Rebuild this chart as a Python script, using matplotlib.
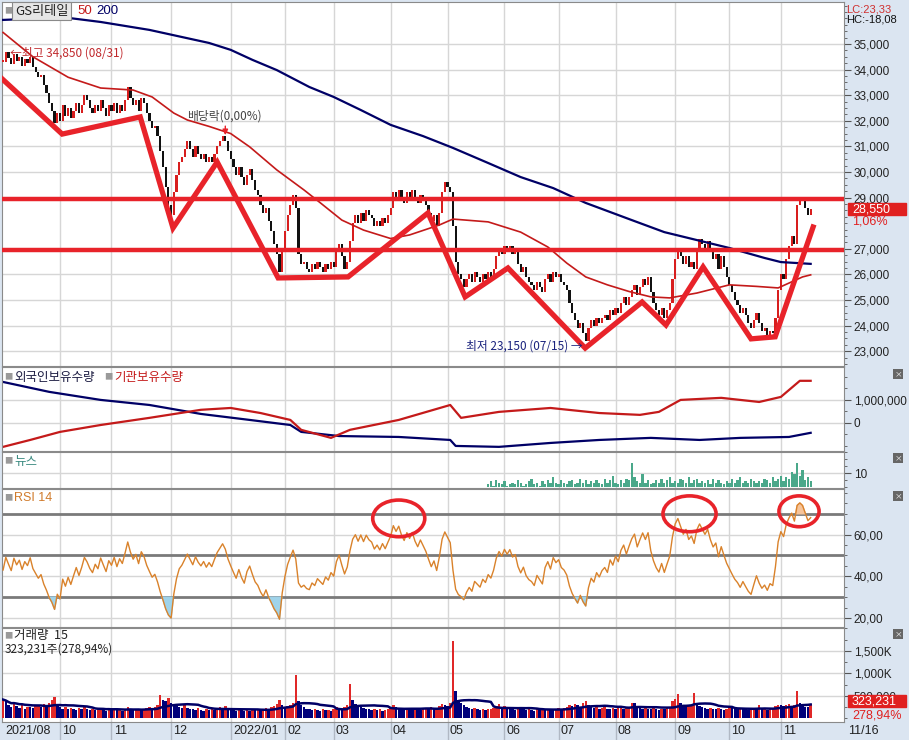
import numpy as np
import pandas as pd
import matplotlib
matplotlib.use('Agg')
import matplotlib.pyplot as plt
import matplotlib.transforms as mtrans
from matplotlib.patches import Ellipse, Rectangle
from matplotlib.ticker import MultipleLocator

plt.rcParams['font.family'] = ['Noto Sans CJK KR', 'DejaVu Sans']
NUM = ['Liberation Sans', 'DejaVu Sans']

# daily closes, trading day index 0 = 2021/08/30 ... 298 = 2022/11/16
closes = [
    34300, 34700, 34450, 34200, 34600, 34350, 34500, 34150, 34400, 34250,
    34500, 34100, 33900, 33700, 33800, 33400, 33100, 32700, 32400, 31900,
    32300, 32000, 32600, 32200, 32500, 32100, 32400, 32700, 32300, 32600,
    33000, 32800, 32500, 32300, 32600, 32400, 32800, 32500, 32200, 32600,
    32400, 32700, 32300, 32600, 32400, 32800, 33300, 32900, 32600, 32800,
    32400, 32900, 32700, 32300, 32000, 31700, 31800, 31400, 30800, 30200,
    29400, 28700, 28300, 29200, 29900, 30400, 30600, 30900, 31200, 30900,
    30600, 31000, 30700, 30500, 30700, 30400, 30600, 30400, 30700, 31000,
    31200, 31400, 31200, 30800, 30500, 30200, 29900, 30200, 29800, 29500,
    29900, 30100, 29700, 29300, 29100, 28700, 28400, 28600, 28100, 27700,
    27200, 26800, 26100, 27000, 27700, 28300, 28700, 29100, 28600, 26800,
    26400, 26500, 26200, 26100, 26400, 26200, 26500, 26300, 26100, 26400,
    26200, 26500, 26300, 26900, 27200, 26700, 26200, 26500, 27300, 28000,
    28300, 28000, 28400, 28100, 28500, 28300, 28200, 27900, 28100, 27900,
    28200, 28000, 28300, 28600, 29200, 29000, 29300, 29000, 28800, 29200,
    29000, 29300, 29000, 28800, 29100, 28900, 28700, 28400, 28100, 28300,
    27900, 28400, 29200, 29600, 29400, 29200, 27900, 26500, 26000, 25800,
    25500, 25800, 26000, 25700, 26100, 25900, 25700, 26000, 25800, 26100,
    25900, 26200, 26700, 27000, 26800, 27100, 26900, 27100, 26800, 26900,
    26400, 26100, 26300, 25900, 25700, 25600, 25400, 25700, 25500, 25300,
    25800, 26000, 25700, 26100, 25900, 26000, 25700, 25600, 25400, 24900,
    24500, 24200, 23900, 24100, 23700, 23400, 23900, 24200, 24000, 24300,
    24100, 24300, 24400, 24200, 24600, 24400, 24700, 24500, 24900, 25100,
    24800, 25100, 25400, 25600, 25200, 25500, 25800, 25600, 25900, 25300,
    24900, 24600, 24400, 24700, 24300, 24600, 24900, 25800, 26600, 27000,
    26700, 26400, 26700, 26300, 26500, 26200, 27000, 27400, 27200, 27000,
    27300, 26900, 26600, 26800, 26200, 26700, 26300, 25900, 25600, 25300,
    25000, 24800, 24500, 24700, 24400, 24100, 23900, 24200, 24500, 24100,
    23800, 23900, 23600, 23800, 23700, 24300, 25400, 26000, 25800, 26600,
    27100, 27500, 27200, 28700, 29000, 28900, 28600, 28300, 28550,
]

# volume in thousand shares
volumes = [
    420, 380, 300, 260, 350, 280, 240, 300, 220, 260,
    250, 230, 280, 300, 260, 320, 280, 350, 400, 480,
    300, 250, 220, 260, 200, 240, 210, 180, 230, 200,
    260, 220, 190, 210, 180, 200, 230, 190, 170, 210,
    190, 220, 180, 200, 170, 210, 260, 200, 180, 190,
    200, 180, 210, 230, 250, 220, 260, 300, 520, 420,
    380, 460, 350, 300, 280, 260, 240, 300, 230, 210,
    200, 180, 230, 190, 170, 200, 180, 210, 190, 220,
    250, 230, 280, 200, 190, 180, 170, 210, 190, 170,
    180, 160, 200, 190, 210, 180, 200, 230, 220, 250,
    280, 320, 420, 300, 260, 280, 300, 350, 970, 380,
    300, 250, 220, 200, 180, 210, 190, 170, 200, 180,
    190, 170, 200, 260, 230, 220, 250, 300, 770, 420,
    330, 280, 250, 230, 210, 200, 190, 220, 180, 200,
    170, 190, 210, 230, 300, 260, 240, 220, 200, 230,
    210, 190, 220, 200, 180, 210, 230, 200, 250, 220,
    240, 280, 330, 300, 280, 350, 1720, 600, 420, 350,
    300, 260, 230, 210, 240, 200, 190, 220, 180, 200,
    210, 230, 280, 320, 260, 280, 240, 210, 200, 190,
    230, 210, 200, 180, 220, 190, 170, 200, 180, 210,
    190, 220, 200, 180, 210, 230, 200, 240, 260, 300,
    280, 320, 300, 260, 340, 380, 300, 260, 230, 250,
    220, 240, 300, 220, 200, 230, 210, 250, 270, 220,
    240, 260, 350, 340, 280, 230, 210, 250, 220, 200,
    230, 210, 190, 220, 200, 240, 260, 380, 430, 540,
    350, 300, 260, 280, 300, 570, 330, 280, 250, 230,
    210, 240, 220, 200, 230, 210, 190, 220, 250, 230,
    210, 200, 240, 220, 200, 190, 210, 230, 220, 290,
    200, 220, 190, 210, 240, 270, 310, 300, 280, 290,
    330, 280, 300, 610, 340, 290, 260, 250, 323,
]

# news count per day, from index 179
news_start = 179
news = [
    2, 4, 1, 5, 3, 2, 4, 1, 2, 3,
    2, 5, 3, 1, 2, 4, 6, 2, 3, 1,
    4, 2, 5, 3, 7, 3, 2, 5, 3, 2,
    4, 5, 2, 3, 6, 3, 5, 2, 4, 3,
    5, 3, 2, 6, 3, 5, 8, 3, 2, 5,
    3, 6, 5, 17, 7, 4, 3, 9, 3, 5,
    2, 3, 5, 3, 6, 3, 5, 7, 3, 4,
    3, 6, 5, 3, 7, 3, 5, 6, 3, 4,
    3, 5, 2, 6, 3, 5, 3, 2, 4, 3,
    6, 3, 5, 7, 3, 4, 3, 6, 4, 3,
    4, 3, 6, 5, 3, 7, 4, 6, 8, 4,
    7, 6, 11, 9, 17, 8, 12, 5, 7, 4,
]

month_idx = [0, 21, 40, 62, 84, 104, 122, 143, 164, 185, 205, 226, 248, 268, 287]
month_labels = ['2021/08', '10', '11', '12', '2022/01', '02', '03', '04', '05',
                '06', '07', '08', '09', '10', '11']

# moving averages (index, price)
ma50_idx = [0, 11, 24, 36, 48, 55, 63, 68, 76, 84, 91, 101, 111, 117, 125, 133, 143,
            150, 161, 166, 179, 191, 201, 208, 215, 223, 231, 239, 246, 256, 268,
            278, 286, 290, 295, 298]
ma50_val = [35450, 34500, 33700, 33280, 33200, 32930, 32300, 32030, 31780, 31500,
            30980, 30080, 29300, 28800, 28120, 27730, 27400, 27540, 27930, 28160,
            28050, 27650, 27070, 26440, 25900, 25590, 25330, 25120, 25080, 25270,
            25590, 25530, 25470, 25660, 25900, 25980]
ma200_idx = [0, 14, 24, 36, 54, 76, 84, 92, 101, 113, 122, 132, 143, 155, 166, 179,
             191, 203, 215, 232, 244, 256, 268, 281, 287, 298]
ma200_val = [35940, 36000, 36020, 35860, 35550, 35040, 34770, 34380, 33980, 33320,
             32930, 32420, 31840, 31400, 30940, 30350, 29800, 29370, 28790, 28120,
             27650, 27340, 27030, 26640, 26480, 26410]

# hand drawn trend zigzag and support/resistance lines
zig_idx = [-1.1, 21.8, 50.6, 62.7, 79, 101.5, 127.3, 156.8, 170.5, 186.3, 214.8,
           235.8, 244.6, 258.3, 276, 284.9, 298.9]
zig_val = [33710, 31480, 32150, 27810, 30390, 25860, 25900, 28400, 25120, 26250,
           23120, 24920, 24020, 26290, 23480, 23560, 27850]
levels = [28950, 26950]

# holdings (index, million shares, relative)
foreign_idx = [0, 17, 36, 54, 73, 91, 106, 110, 124, 146, 165, 167, 183, 202, 220,
               239, 257, 272, 290, 298]
foreign_val = [1.78, 1.35, 1.0, 0.78, 0.39, 0.13, -0.09, -0.39, -0.57, -0.61, -0.74,
               -1.0, -1.04, -0.87, -0.74, -0.65, -0.74, -0.65, -0.61, -0.43]
inst_idx = [0, 10, 21, 36, 54, 73, 84, 95, 106, 110, 121, 128, 146, 165, 169, 183,
            202, 220, 235, 242, 250, 265, 279, 287, 294, 298]
inst_val = [-1.04, -0.74, -0.39, -0.09, 0.22, 0.57, 0.65, 0.43, 0.13, -0.30, -0.65,
            -0.30, 0.13, 0.78, 0.22, 0.48, 0.65, 0.43, 0.35, 0.48, 1.0, 1.09, 0.91,
            1.13, 1.83, 1.83]

W, H = 909, 740
RED = '#e8232a'
NAVY = '#000066'
GRID = '#d6d6d6'
BG = '#dbe5f1'
TICK_FS = 8.5

fig = plt.figure(figsize=(W / 100, H / 100), dpi=100, facecolor=BG)


def panel(y0, y1):
    ax = fig.add_axes([2 / W, 1 - y1 / H, 842 / W, (y1 - y0) / H])
    ax.set_facecolor('white')
    ax.set_xlim(-0.4, 310.3)
    for s in ax.spines.values():
        s.set_color('#8a8a8a')
    ax.yaxis.tick_right()
    ax.tick_params(axis='y', direction='out', length=5, width=0.8, color='#555555',
                   labelsize=TICK_FS, pad=2, labelcolor='#222222')
    ax.tick_params(axis='y', which='minor', direction='out', length=2, color='#555555')
    ax.tick_params(axis='x', length=0, labelbottom=False)
    ax.set_xticks(month_idx[1:])
    ax.grid(True, axis='both', color=GRID, lw=1)
    ax.set_axisbelow(True)
    return ax


def set_labels(ax, vals, labels):
    ax.set_yticks(vals)
    ax.set_yticklabels(labels, family=NUM, fontsize=TICK_FS)


x = np.arange(len(closes))
c = np.array(closes, dtype=float)
o = np.concatenate([[c[0]], c[:-1]])
up = c >= o

# ---- price panel
ax = panel(2, 366)
ax.set_ylim(22420, 36640)
ax.yaxis.set_minor_locator(MultipleLocator(250))
pt = [v for v in range(23000, 36000, 1000) if v != 28000]
set_labels(ax, pt, [f'{v:,}' for v in pt])
lo = np.minimum(o, c)
hgt = np.maximum(np.abs(c - o), 60)
ax.bar(x, hgt, bottom=lo, width=0.8, color=np.where(up, '#d81e1e', '#111111'),
       zorder=3)
ax.plot(ma200_idx, ma200_val, color=NAVY, lw=1.6, zorder=4)
ax.plot(ma50_idx, ma50_val, color='#c41a1a', lw=1.2, zorder=4)
for lv in levels:
    ax.axhline(lv, color=RED, lw=3.2, zorder=5)
ax.plot(zig_idx, zig_val, color=RED, lw=3.8, zorder=6, solid_joinstyle='miter')
ax.text(2.5, 34660, '←최고 34,850 (08/31)', color='#c0282c', fontsize=8.5,
        va='center', ha='left', zorder=7)
ax.text(68, 32190, '배당락(0,00%)', color='#444444', fontsize=8.5, va='center',
        ha='left', zorder=7)
ax.annotate('', xy=(82, 31330), xytext=(82, 31900),
            arrowprops=dict(arrowstyle='-|>', color=RED, lw=1, mutation_scale=8),
            zorder=7)
ax.text(214, 23200, '최저 23,150 (07/15) →', color='#1a237e', fontsize=8.5,
        va='center', ha='right', zorder=7)

# ---- holdings panel
ah = panel(367, 451)
ah.set_ylim(-1.22, 2.43)
set_labels(ah, [0, 1.0], ['0', '1,000,000'])
ah.yaxis.set_minor_locator(MultipleLocator(0.5))
ah.plot(foreign_idx, foreign_val, color=NAVY, lw=1.6)
ah.plot(inst_idx, inst_val, color='#c41a1a', lw=1.6)

# ---- news panel
an = panel(452, 488)
an.set_ylim(-0.7, 25)
set_labels(an, [10], ['10'])
an.yaxis.set_minor_locator(MultipleLocator(5))
an.bar(np.arange(news_start, news_start + len(news)), news, width=0.85,
       color='#4aa88a', zorder=3)

# ---- RSI panel (Wilder, 14)
ar = panel(489, 627)
ar.set_ylim(15.7, 81.9)
set_labels(ar, [20, 40, 60], ['20,00', '40,00', '60,00'])
ar.yaxis.set_minor_locator(MultipleLocator(5))
d = np.diff(c, prepend=c[0])
gain = np.maximum(d, 0)
loss = np.maximum(-d, 0)
ag = np.empty_like(c)
al = np.empty_like(c)
ag[0] = gain[1:15].mean()
al[0] = loss[1:15].mean()
for i in range(1, len(c)):
    ag[i] = (ag[i - 1] * 13 + gain[i]) / 14
    al[i] = (al[i - 1] * 13 + loss[i]) / 14
rsi = 100 - 100 / (1 + ag / al)
for lv in (70, 50, 30):
    ar.axhline(lv, color='#7a7a7a', lw=2, zorder=2)
ar.fill_between(x, rsi, 30, where=rsi < 30, interpolate=True, color='#9fd3ea', zorder=3)
ar.fill_between(x, rsi, 70, where=rsi > 70, interpolate=True, color='#f6c49a', zorder=3)
ar.plot(x, rsi, color='#d9822b', lw=1, zorder=4)
for cx, cy, w, h in [(146, 67.8, 19.2, 17.6), (253.3, 70, 19.6, 17.2),
                     (293.7, 71.2, 14.8, 14.8)]:
    ar.add_patch(Ellipse((cx, cy), w, h, fill=False, edgecolor=RED, lw=2.6, zorder=6))

# ---- volume panel: red when volume rose from the day before
av = panel(628, 722)
vol = np.array(volumes, dtype=float) / 1000
vol_up = vol >= np.concatenate([[0], vol[:-1]])
av.set_ylim(-0.078, 2.011)
set_labels(av, [0.5, 1.0, 1.5], ['500,000', '1,000K', '1,500K'])
av.yaxis.set_minor_locator(MultipleLocator(0.25))
av.bar(x, vol, width=0.9, color=np.where(vol_up, '#e02828', '#00007a'), zorder=3)
av.plot(x, pd.Series(vol).rolling(15, min_periods=1).mean(), color=NAVY, lw=1.8,
        zorder=4)

# month labels in the bottom strip
tr = mtrans.blended_transform_factory(av.transData, av.transAxes)
for mi, ml in zip(month_idx, month_labels):
    av.text(mi + 0.8, -0.095, ml, transform=tr, fontsize=9, family=NUM,
            va='center', ha='left', color='#222222', clip_on=False)
    if mi > 0:
        av.plot([mi, mi], [0, -0.2], transform=tr, color='#b0b8c4', lw=1,
                clip_on=False)


def ftext(px, py, txt, **kw):
    fig.text(px / W, 1 - py / H, txt, **kw)


# panel titles
ftext(4, 11, '■', color='#9a9a9a', fontsize=6, va='center')
ftext(15, 11, 'GS리테일', color='#222222', fontsize=9.5, va='center',
      bbox=dict(boxstyle='square,pad=0.2', fc='#e6e6e6', ec='#8a8a8a', lw=0.8))
ftext(77, 11, '50', color='#c41a1a', fontsize=9.5, va='center', family=NUM)
ftext(96, 11, '200', color=NAVY, fontsize=9.5, va='center', family=NUM)
ftext(4, 377, '■', color='#9a9a9a', fontsize=6, va='center')
ftext(14, 377, '외국인보유수량', color='#1a1a40', fontsize=9, va='center')
ftext(104, 377, '■', color='#9a9a9a', fontsize=6, va='center')
ftext(114, 377, '기관보유수량', color='#c41a1a', fontsize=9, va='center')
ftext(4, 461, '■', color='#9a9a9a', fontsize=6, va='center')
ftext(14, 461, '뉴스', color='#3a8a80', fontsize=9, va='center')
ftext(4, 498, '■', color='#9a9a9a', fontsize=6, va='center')
ftext(14, 498, 'RSI 14', color='#d07a2a', fontsize=9, va='center', family=NUM)
ftext(4, 636, '■', color='#9a9a9a', fontsize=6, va='center')
ftext(14, 636, '거래량  15', color='#222222', fontsize=9, va='center')
ftext(5, 649, '323,231주(278,94%)', color='#222222', fontsize=8.5, va='center')

# right side labels
ftext(846, 9, 'LC:23,33', color='#d03030', fontsize=8, va='center', family=NUM)
ftext(846, 19.5, 'HC:-18,08', color='#111111', fontsize=8, va='center', family=NUM)
fig.patches.append(Rectangle((848 / W, 1 - 215 / H), 58 / W, 12 / H, color='#e02020',
                             transform=fig.transFigure, figure=fig, zorder=5))
ftext(852, 209, '28,550', color='white', fontsize=9, va='center', family=NUM,
      zorder=6)
ftext(852, 222, '1,06%', color='#e02020', fontsize=9, va='center', family=NUM)
fig.patches.append(Rectangle((848 / W, 1 - 707 / H), 58 / W, 12 / H, color='#e02020',
                             transform=fig.transFigure, figure=fig, zorder=5))
ftext(852, 701, '323,231', color='white', fontsize=9, va='center', family=NUM,
      zorder=6)
ftext(852, 715, '278,94%', color='#e02020', fontsize=9, va='center', family=NUM)
ftext(848, 731, '11/16', color='#222222', fontsize=9, va='center', family=NUM)
for py in (374, 458, 496, 634):
    ftext(898, py, '×', color='white', fontsize=5.5, va='center', ha='center',
          bbox=dict(boxstyle='square,pad=0.1', fc='#666666', ec='none'))

fig.savefig('out.png', dpi=100, facecolor=BG)
